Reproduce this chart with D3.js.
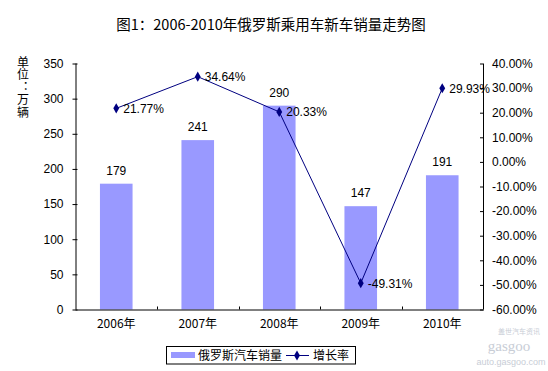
<!DOCTYPE html>
<html><head><meta charset="utf-8">
<script src="https://cdn.jsdelivr.net/npm/d3@7"></script>
<style>
html,body{margin:0;padding:0;background:#fff;}
svg{display:block;}
text{font-family:"Liberation Sans",Arial,"Noto Sans CJK SC",sans-serif;fill:#000;}
.cjk{font-family:"Noto Sans CJK SC","Liberation Sans",sans-serif;}
</style></head>
<body>
<svg id="chart" width="548" height="371"></svg>
<script>
const categories = ["2006年","2007年","2008年","2009年","2010年"];
const sales = [179, 241, 290, 147, 191];
const growth = [0.2177, 0.3464, 0.2033, -0.4931, 0.2993];
const leftTicks = [0,50,100,150,200,250,300,350];
const rightTicks = [-0.6,-0.5,-0.4,-0.3,-0.2,-0.1,0,0.1,0.2,0.3,0.4];
const title = "图1：2006-2010年俄罗斯乘用车新车销量走势图";
const yTitle = "单位：万辆";
const seriesNames = ["俄罗斯汽车销量","增长率"];

const svg = d3.select("#chart");
const L = 75.5, R = 483, T = 63.5, B = 309.5;
const barColor = "#9999ff", lineColor = "#000080";

const x = d3.scaleBand().domain(categories).range([L,R]).paddingInner(0.6).paddingOuter(0.3);
const yL = d3.scaleLinear().domain([0,350]).range([B,T]);
const yR = d3.scaleLinear().domain([-0.6,0.4]).range([B,T]);
const cx = c => x(c) + x.bandwidth()/2;
const pct = d => (d*100).toFixed(2) + "%";

// title
svg.append("text").attr("class","cjk").attr("x",271).attr("y",30).attr("text-anchor","middle")
  .style("font-size","14.5px").text(title);

// y title vertical
svg.append("text").attr("class","cjk")
  .attr("x",23).attr("y",56)
  .style("writing-mode","vertical-rl").style("text-orientation","upright")
  .style("letter-spacing","0.6px")
  .style("font-size","12px").text(yTitle);

// bars
svg.append("g").selectAll("rect").data(sales).join("rect")
  .attr("x",(d,i)=>x(categories[i])).attr("width",x.bandwidth())
  .attr("y",d=>yL(d)).attr("height",d=>B-yL(d)).attr("fill",barColor);

// bar labels
svg.append("g").selectAll("text").data(sales).join("text")
  .attr("x",(d,i)=>cx(categories[i])).attr("y",d=>yL(d)-9).attr("text-anchor","middle")
  .style("font-size","12px").text(d=>d);

// left axis
const gl = svg.append("g").attr("transform",`translate(${L},0)`)
  .call(d3.axisLeft(yL).tickValues(leftTicks).tickSize(3).tickPadding(9).tickFormat(d3.format("d")));
gl.selectAll(".tick line").attr("x2",-3).attr("x1",2).attr("stroke","#000");
gl.select(".domain").attr("stroke","#000").attr("d",`M0.5,${T}V${B}`);
gl.selectAll("text").style("font-size","12px").style("font-family","'Liberation Sans',Arial,sans-serif");

// right axis
const gr = svg.append("g").attr("transform",`translate(${R},0)`)
  .call(d3.axisRight(yR).tickValues(rightTicks).tickSize(-3).tickPadding(9).tickFormat(pct));
gr.selectAll(".tick line").attr("stroke","#000");
gr.select(".domain").attr("stroke","#000").attr("d",`M0.5,${T}V${B}`);
gr.selectAll("text").style("font-size","12px").style("font-family","'Liberation Sans',Arial,sans-serif");

// bottom axis
const gb = svg.append("g").attr("transform",`translate(0,${B})`)
  .call(d3.axisBottom(x).tickSize(0).tickPadding(10));
gb.select(".domain").attr("stroke","#000").attr("d",`M${L},0.5H${R+1}`);
gb.selectAll("text").attr("class","cjk").style("font-size","12px");
// category boundary ticks
svg.append("g").selectAll("line").data(categories.slice(1)).join("line")
  .attr("x1",c=>Math.round(cx(c)-x.step()/2)+0.5).attr("x2",c=>Math.round(cx(c)-x.step()/2)+0.5)
  .attr("y1",B-3).attr("y2",B).attr("stroke","#000");

// growth line
const line = d3.line().x((d,i)=>cx(categories[i])).y(d=>yR(d));
svg.append("path").datum(growth).attr("d",line).attr("fill","none")
  .attr("stroke",lineColor).attr("stroke-width",1);
const diamond = d3.symbol().type(d3.symbolDiamond).size(30);
svg.append("g").selectAll("path").data(growth).join("path")
  .attr("d",diamond).attr("fill",lineColor)
  .attr("transform",(d,i)=>`translate(${cx(categories[i])},${yR(d)})`);
svg.append("g").selectAll("text").data(growth).join("text")
  .attr("x",(d,i)=>cx(categories[i])+7).attr("y",d=>yR(d)+4.5)
  .style("font-size","12px").text(d=>pct(d));

// legend
const lg = svg.append("g");
lg.append("rect").attr("x",166.5).attr("y",346.5).attr("width",189).attr("height",17.5)
  .attr("fill","#fff").attr("stroke","#000");
lg.append("rect").attr("x",171).attr("y",352).attr("width",24).attr("height",6).attr("fill",barColor);
lg.append("text").attr("class","cjk").attr("x",198).attr("y",360).style("font-size","12px").text(seriesNames[0]);
lg.append("line").attr("x1",286).attr("x2",309).attr("y1",355.5).attr("y2",355.5).attr("stroke",lineColor);
lg.append("path").attr("d",diamond).attr("fill",lineColor).attr("transform","translate(297,355.5)");
lg.append("text").attr("class","cjk").attr("x",313).attr("y",360).style("font-size","12px").text(seriesNames[1]);

// watermark
svg.append("text").attr("class","cjk").attr("x",519).attr("y",334).attr("text-anchor","middle")
  .style("font-size","7px").style("fill","#c8cdd6").text("盖世汽车资讯");
svg.append("text").attr("x",509).attr("y",351).attr("text-anchor","middle")
  .style("font-size","15px").style("font-family","'Liberation Serif',serif").style("fill","#c8cdd6").text("gasgoo");
svg.append("text").attr("x",511).attr("y",365).attr("text-anchor","middle")
  .style("font-size","9px").style("fill","#c8cdd6").text("auto.gasgoo.com");
</script>
</body></html>
